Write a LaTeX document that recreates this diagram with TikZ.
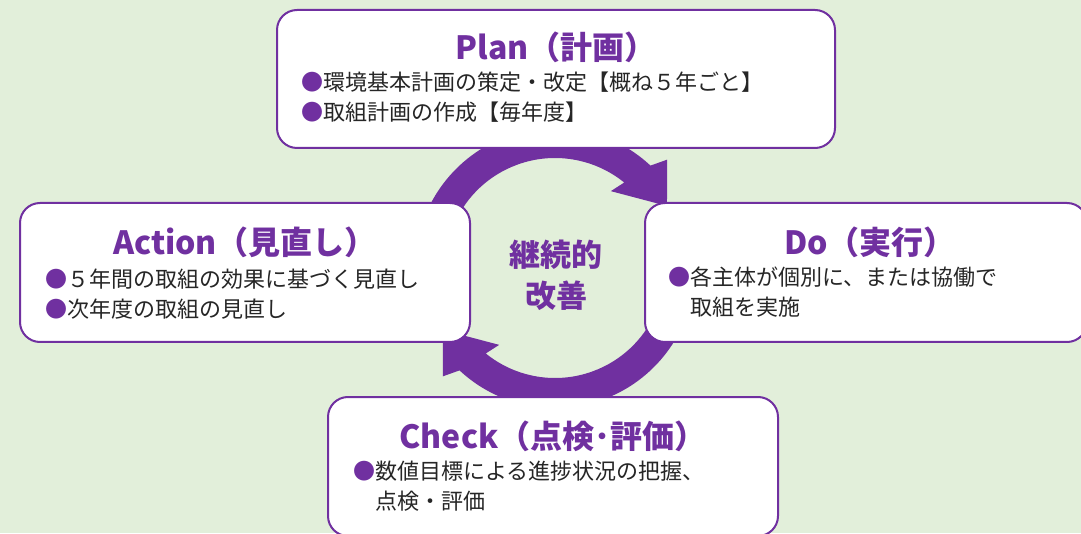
\documentclass[tikz,border=0pt]{standalone}
\usepackage{fontspec}
\setmainfont{Noto Sans CJK JP}
\usetikzlibrary{positioning}

\definecolor{pdcapurple}{HTML}{7030A0}
\definecolor{pdcagreen}{HTML}{E2EFDA}
\definecolor{pdcatext}{HTML}{262626}

\newcommand{\bul}{\textcolor{pdcapurple}{●}}

\tikzset{
  card/.style={draw=pdcapurple, line width=2pt, fill=white,
    rounded corners=20pt, inner sep=0pt},
  cardtitle/.style={text=pdcapurple, inner sep=0pt,
    font=\fontsize{32}{36}\selectfont\bfseries},
  cardbody/.style={text=pdcatext, align=left, anchor=north west,
    inner sep=0pt, font=\fontsize{22}{30}\selectfont},
  halfring/.pic={
    \fill[pdcapurple] (200:110) arc[start angle=200, end angle=51, radius=110]
      -- (54:95) -- (29:128) -- (44:156) -- (47:140)
      arc[start angle=47, end angle=200, radius=140] -- cycle;
  }
}

\begin{document}
\begin{tikzpicture}[x=1pt, y=1pt]
  \clip (0,0) rectangle (1081,533);
  \fill[pdcagreen] (0,0) rectangle (1081,533);

  % the cycle
  \pic at (555,265) {halfring};
  \pic[rotate=180] at (555,265) {halfring};
  \node[text=pdcapurple, align=center, inner sep=0pt,
    font=\fontsize{31}{41}\selectfont\bfseries] (kaizen) at (556,258) {継続的\\改善};

  % the four steps
  \node[card, minimum width=558pt, minimum height=138pt] (plan) at (556,454) {};
  \node[card, minimum width=450pt, minimum height=139pt] (action) at (245,260.5) {};
  \node[card, minimum width=442pt, minimum height=139pt] (do) at (866,260.5) {};
  \node[card, minimum width=450pt, minimum height=139pt] (check) at (553,66.5) {};

  \node[cardtitle, yshift=-38pt] (plantitle) at (plan.north) {Plan（計画）};
  \node[cardtitle, yshift=-40pt] (actiontitle) at (action.north) {Action（見直し）};
  \node[cardtitle, yshift=-40pt, xshift=4pt] (dotitle) at (do.north) {Do（実行）};
  \node[cardtitle, yshift=-40pt] (checktitle) at (check.north) {Check（点検･評価）};

  \node[cardbody] (plantext) at (301,461)
    {\bul 環境基本計画の策定・改定【概ね５年ごと】\\\bul 取組計画の作成【毎年度】};
  \node[cardbody] (actiontext) at (45,264)
    {\bul ５年間の取組の効果に基づく見直し\\\bul 次年度の取組の見直し};
  \node[cardbody] (dotext) at (668,266)
    {\bul 各主体が個別に、または協働で\\\hphantom{\bul}取組を実施};
  \node[cardbody] (checktext) at (353,72)
    {\bul 数値目標による進捗状況の把握、\\\hphantom{\bul}点検・評価};
\end{tikzpicture}
\end{document}
